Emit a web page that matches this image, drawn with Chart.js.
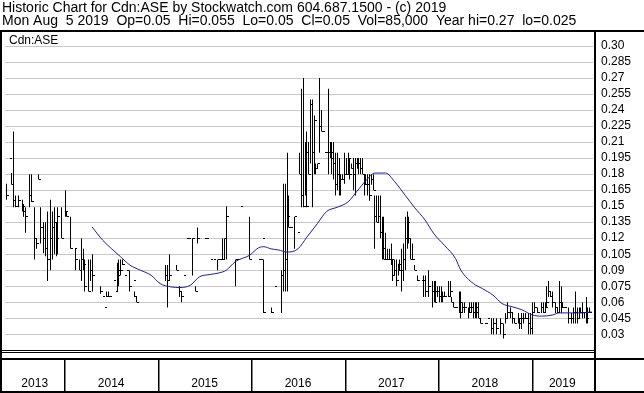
<!DOCTYPE html>
<html>
<head>
<meta charset="utf-8">
<script src="https://cdn.jsdelivr.net/npm/chart.js@4.4.1/dist/chart.umd.min.js"></script>
<style>
  html, body { margin: 0; padding: 0; background: #fff; }
  #wrap { width: 644px; height: 393px; }
</style>
</head>
<body>
<div id="wrap"><canvas id="myChart" width="644" height="393"></canvas></div>
<script>
// header text
const headerLines = [
  "Historic Chart for Cdn:ASE by Stockwatch.com 604.687.1500 - (c) 2019",
  "Mon Aug  5 2019  Op=0.05  Hi=0.055  Lo=0.05  Cl=0.05  Vol=85,000  Year hi=0.27  lo=0.025"
];
const symbol = "Cdn:ASE";

// x axis: weekly bars, week 0 = mid May 2013
const yearLabels = ["2013", "2014", "2015", "2016", "2017", "2018", "2019"];
const week2014 = 32.6;
const weeksPerYear = 52.18;

// y axis ticks
const yTicks = [0.30, 0.285, 0.27, 0.255, 0.24, 0.225, 0.21, 0.195, 0.18, 0.165,
  0.15, 0.135, 0.12, 0.105, 0.09, 0.075, 0.06, 0.045, 0.03];
const yTickLabels = ["0.30", "0.285", "0.27", "0.255", "0.24", "0.225", "0.21", "0.195", "0.18", "0.165",
  "0.15", "0.135", "0.12", "0.105", "0.09", "0.075", "0.06", "0.045", "0.03"];

// weekly high / low / close (only weeks that traded)
const weeks = [
  0, 2, 3, 4, 5, 7, 9, 10, 11, 13,
  14, 16, 17, 18, 19, 21, 22, 23, 25, 26,
  27, 28, 29, 31, 33, 34, 36, 38, 39, 41,
  42, 43, 44, 46, 47, 48, 53, 54, 55, 56,
  57, 58, 60, 61, 62, 63, 64, 65, 66, 67,
  69, 71, 72, 73, 89, 90, 91, 95, 97, 98,
  99, 101, 102, 104, 106, 107, 111, 112, 114, 116,
  118, 119, 120, 121, 122, 123, 128, 129, 131, 136,
  141, 142, 143, 144, 148, 150, 154, 155, 156, 157,
  158, 159, 161, 163, 164, 165, 166, 167, 168, 169,
  170, 171, 172, 173, 174, 175, 176, 177, 178, 179,
  180, 181, 182, 183, 184, 185, 186, 187, 188, 189,
  190, 191, 192, 193, 194, 195, 196, 197, 198, 199,
  200, 201, 202, 203, 204, 205, 206, 207, 208, 209,
  210, 211, 212, 213, 214, 215, 216, 217, 218, 219,
  220, 221, 222, 223, 224, 225, 226, 227, 228, 230,
  232, 233, 234, 236, 238, 239, 240, 241, 242, 243,
  244, 245, 247, 248, 249, 250, 251, 253, 254, 255,
  256, 258, 259, 260, 261, 262, 263, 264, 265, 267,
  268, 269, 271, 272, 274, 276, 278, 279, 280, 282,
  283, 284, 286, 287, 288, 289, 290, 292, 293, 294,
  295, 297, 299, 300, 301, 302, 303, 304, 305, 307,
  308, 309, 310, 311, 312, 314, 316, 317, 318, 319,
  320, 321, 322, 323, 324, 325, 326
];
const highs = [
  .171, .195, .181, .22, .16, .16, .156, .152, .149, .18,
  .18, .149, .12, .18, .149, .135, .135, .145, .156, .145,
  .149, .135, .149, .149, .165, .145, .14, .11, .11, .10,
  .12, .11, .10, .10, .10, .105, .075, .065, .055, .07,
  .07, .065, .08, .07, .097, .10, .10, .10, .085, .09,
  .09, .08, .07, .065, .095, .095, .105, .095, .075, .07,
  .085, .12, .12, .12, .075, .13, .12, .12, .10, .10,
  .10, .10, .10, .12, .12, .15, .10, .10, .15, .14,
  .10, .10, .12, .10, .055, .075, .09, .171, .171, .20,
  .16, .13, .14, .125, .20, .26, .27, .21, .22, .21,
  .25, .25, .235, .19, .19, .27, .24, .22, .20, .20,
  .26, .21, .21, .21, .20, .20, .195, .18, .18, .20,
  .195, .20, .195, .19, .195, .195, .195, .195, .195, .195,
  .18, .18, .18, .18, .18, .18, .16, .16, .16, .16,
  .14, .14, .125, .11, .11, .115, .10, .10, .10, .096,
  .10, .11, .115, .14, .145, .14, .12, .115, .095, .085,
  .08, .085, .085, .09, .08, .08, .08, .075, .075, .075,
  .07, .07, .08, .08, .065, .06, .055, .07, .07, .06,
  .06, .055, .06, .06, .06, .06, .06, .06, .045, .04,
  .04, .045, .045, .045, .045, .045, .04, .05, .06, .055,
  .05, .045, .05, .045, .05, .05, .05, .05, .05, .06,
  .06, .055, .06, .06, .06, .075, .08, .07, .07, .06,
  .055, .08, .075, .06, .055, .055, .05, .055, .07, .055,
  .055, .055, .06, .05, .065, .055, .055
];
const lows = [
  .156, .195, .17, .149, .149, .149, .145, .14, .125, .149,
  .154, .10, .11, .175, .115, .106, .103, .08, .09, .10,
  .105, .103, .105, .12, .14, .14, .11, .11, .09, .09,
  .08, .09, .07, .07, .08, .07, .068, .065, .055, .065,
  .065, .065, .08, .07, .07, .075, .085, .095, .085, .09,
  .07, .08, .065, .06, .08, .055, .08, .09, .065, .06,
  .085, .12, .12, .085, .07, .115, .12, .12, .10, .10,
  .09, .10, .10, .10, .10, .10, .075, .10, .15, .10,
  .10, .10, .12, .05, .05, .075, .05, .07, .07, .07,
  .13, .13, .11, .125, .18, .149, .149, .16, .149, .18,
  .19, .149, .18, .18, .185, .20, .22, .22, .20, .20,
  .18, .195, .18, .175, .16, .165, .16, .16, .175, .171,
  .18, .18, .175, .185, .165, .16, .185, .18, .18, .18,
  .16, .17, .16, .155, .17, .165, .11, .135, .135, .12,
  .10, .10, .10, .10, .10, .095, .08, .085, .075, .085,
  .09, .07, .08, .09, .11, .115, .10, .10, .09, .08,
  .08, .065, .065, .065, .055, .06, .06, .065, .06, .06,
  .06, .065, .065, .065, .06, .055, .055, .05, .045, .05,
  .05, .045, .05, .05, .045, .045, .045, .045, .04, .04,
  .04, .045, .03, .03, .03, .03, .026, .04, .045, .045,
  .04, .04, .04, .035, .035, .04, .045, .03, .03, .03,
  .05, .05, .05, .05, .05, .055, .065, .065, .055, .05,
  .05, .05, .05, .055, .055, .04, .04, .04, .04, .04,
  .045, .05, .045, .045, .04, .04, .05
];
const closes = [
  .16, .195, .17, .155, .15, .155, .15, .145, .14, .16,
  .154, .12, .115, .175, .13, .12, .11, .10, .12, .13,
  .135, .12, .14, .12, .145, .14, .11, .11, .10, .09,
  .10, .095, .075, .07, .09, .085, .07, .065, .055, .065,
  .065, .065, .08, .07, .085, .09, .09, .095, .085, .09,
  .075, .08, .065, .06, .085, .08, .085, .09, .07, .065,
  .085, .12, .12, .12, .07, .12, .12, .12, .10, .10,
  .10, .10, .10, .10, .12, .14, .10, .10, .15, .10,
  .10, .10, .12, .05, .05, .075, .085, .09, .10, .14,
  .13, .13, .14, .125, .18, .16, .15, .20, .15, .18,
  .245, .20, .23, .185, .19, .225, .22, .22, .20, .20,
  .20, .20, .195, .19, .17, .18, .175, .175, .175, .18,
  .18, .195, .18, .185, .18, .19, .19, .19, .185, .18,
  .17, .17, .17, .16, .175, .165, .14, .135, .14, .125,
  .11, .10, .10, .10, .10, .10, .085, .09, .08, .09,
  .095, .09, .10, .12, .135, .12, .10, .10, .09, .08,
  .08, .08, .07, .075, .07, .06, .07, .07, .065, .065,
  .065, .065, .065, .07, .06, .055, .055, .06, .05, .055,
  .055, .05, .055, .055, .05, .055, .05, .045, .04, .04,
  .04, .045, .035, .04, .035, .04, .03, .045, .05, .05,
  .045, .04, .045, .04, .045, .045, .045, .04, .035, .05,
  .055, .05, .055, .05, .055, .06, .07, .065, .06, .055,
  .05, .06, .055, .055, .055, .045, .045, .05, .05, .045,
  .05, .05, .05, .05, .045, .05, .05
];

// moving average (blue line)
const maWeeks = [48, 54, 59, 64, 69, 75, 81, 86, 92, 97,
  103, 108, 114, 119, 123, 128, 136, 141, 144, 148,
  152, 157, 163, 168, 174, 179, 185, 191, 196, 201,
  206, 212, 217, 223, 228, 234, 239, 245, 251, 254,
  261, 266, 272, 277, 283, 288, 294, 299, 305, 309,
  316, 322, 327];
const maValues = [.1306, .118, .110, .1025, .095, .090, .0853, .0775, .0744, .0738,
  .076, .0838, .086, .0875, .090, .098, .104, .111, .112, .110,
  .109, .107, .110, .121, .134, .145, .149, .154, .164, .174,
  .181, .181, .173, .160, .149, .137, .124, .113, .101, .090,
  .0775, .0728, .0666, .0588, .0556, .053, .048, .047, .048, .050,
  .050, .050, .051];

const FONT = "Arial, 'Liberation Sans', sans-serif";

// close tick drawn to the right of each bar
const closeTick = document.createElement("canvas");
closeTick.width = 5;
closeTick.height = 1;
const tctx = closeTick.getContext("2d");
tctx.fillStyle = "#000";
tctx.fillRect(3, 0, 2, 1);

// snap bars and close ticks to whole pixels so the 1px lines stay crisp
const snapPlugin = {
  id: "snap",
  afterDatasetsUpdate(chart) {
    chart.data.datasets.forEach((ds, i) => {
      if (ds.label === "MA") return;
      chart.getDatasetMeta(i).data.forEach((el) => {
        el.x = Math.floor(el.x) + 0.5;
        if (ds.label === "Close") el.y = Math.floor(el.y) + 0.5;
      });
    });
  }
};

const framePlugin = {
  id: "frame",
  beforeDraw(chart) {
    const ctx = chart.ctx;
    ctx.save();
    ctx.fillStyle = "#fff";
    ctx.fillRect(0, 0, chart.width, chart.height);
    ctx.restore();
  },
  afterDraw(chart) {
    const { ctx, chartArea, scales } = chart;
    const x = scales.x;
    const W = chart.width;
    ctx.save();
    ctx.fillStyle = "#000";
    // header separator, borders
    ctx.fillRect(0, 30, W, 2);
    ctx.fillRect(0, 30, 2, 363);
    ctx.fillRect(594, 30, 2, 363);
    // plot bottom lines
    ctx.fillRect(0, 350, 594, 1);
    ctx.fillRect(0, 352, 594, 1);
    ctx.fillRect(0, 358, W, 2);
    ctx.fillRect(0, 391, W, 2);

    // year band
    const bounds = [chartArea.left];
    for (let i = 1; i < yearLabels.length; i++) {
      bounds.push(x.getPixelForValue(week2014 + (i - 1) * weeksPerYear));
    }
    bounds.push(chartArea.right);
    for (let i = 1; i < bounds.length - 1; i++) {
      ctx.fillRect(Math.round(bounds[i]), 360, 1.5, 31);
    }
    ctx.font = "12px " + FONT;
    ctx.textAlign = "center";
    ctx.textBaseline = "middle";
    yearLabels.forEach((lab, i) => {
      ctx.fillText(lab, (bounds[i] + bounds[i + 1]) / 2, 384);
    });

    // symbol label
    ctx.textAlign = "left";
    ctx.fillText(symbol, 9, 41);
    ctx.restore();
  }
};

const ctx = document.getElementById("myChart").getContext("2d");

new Chart(ctx, {
  type: "bar",
  data: {
    datasets: [
      {
        type: "line",
        label: "MA",
        data: maWeeks.map((w, i) => ({ x: w, y: maValues[i] })),
        borderColor: "#1f1f8c",
        borderWidth: 1,
        pointRadius: 0,
        cubicInterpolationMode: "monotone",
        fill: false,
        order: 0,
      },
      {
        type: "line",
        label: "Close",
        data: weeks.map((w, i) => ({ x: w, y: closes[i] })),
        showLine: false,
        pointStyle: closeTick,
        pointRadius: 1,
        order: 1,
      },
      {
        type: "bar",
        label: "Range",
        data: weeks.map((w, i) => ({ x: w, y: [lows[i], highs[i]] })),
        backgroundColor: "#000",
        borderWidth: 0,
        barThickness: 1,
        inflateAmount: 0,
        order: 2,
      },
    ],
  },
  options: {
    responsive: false,
    animation: false,
    devicePixelRatio: 1,
    layout: { padding: { left: 2, right: 0, top: 0, bottom: 44 } },
    plugins: {
      legend: { display: false },
      tooltip: { enabled: false },
      title: {
        display: true,
        text: headerLines,
        align: "start",
        color: "#000",
        font: { family: FONT, size: 14, weight: "normal", lineHeight: 0.93 },
        padding: { top: 2, bottom: 4 },
      },
    },
    scales: {
      x: {
        type: "linear",
        display: false,
        offset: false,
        min: -0.6,
        max: 327.8,
      },
      y: {
        position: "right",
        min: 0.0162,
        max: 0.3131,
        afterBuildTicks: (scale) => {
          scale.ticks = yTicks.map((v) => ({ value: v }));
        },
        afterFit: (scale) => {
          scale.width = 51;
        },
        border: { display: false },
        grid: { color: "#c8c8c8", drawTicks: false },
        ticks: {
          color: "#000",
          padding: 8,
          font: { family: FONT, size: 12 },
          callback: (v, i) => yTickLabels[i],
        },
      },
    },
  },
  plugins: [snapPlugin, framePlugin],
});
</script>
</body>
</html>
